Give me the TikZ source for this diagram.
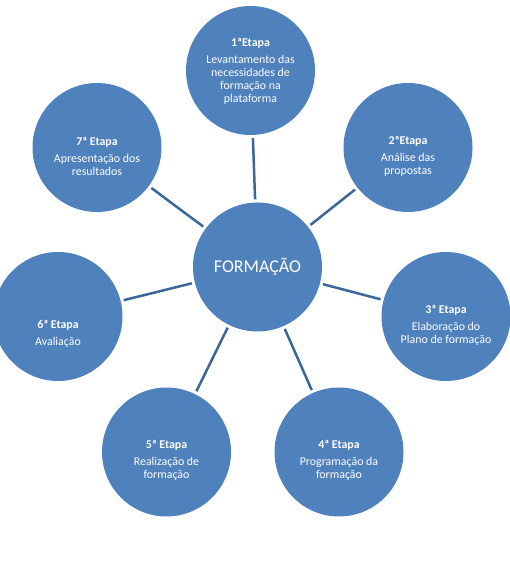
\documentclass[tikz,border=0pt]{standalone}
\usepackage{fontspec}
\setmainfont{Carlito}
\usepackage{tikz}
\usetikzlibrary{positioning}
\definecolor{stagefill}{HTML}{4F81BD}
\definecolor{linkcol}{HTML}{3A6699}

\begin{document}
\begin{tikzpicture}[x=1pt, y=1pt,
    stage/.style={circle, fill=stagefill, minimum size=129pt, inner sep=0pt},
    txt/.style={text=white, align=center, font=\fontsize{11.9}{13}\selectfont},
    link/.style={draw=linkcol, line width=2.5pt, shorten >=3pt, shorten <=3pt}]
  \useasboundingbox (0,0) rectangle (510,564);
  % hub
  \node[stage] (hub) at (257.5,297) {};
  \node[text=white, font=\fontsize{18}{20}\selectfont] (hubtxt) at (hub) {FORMAÇÃO};
  % stages
  \node[stage] (s1) at (250.5,493.5) {};
  \node[stage] (s2) at (408,416.5)   {};
  \node[stage] (s3) at (446,247.5)   {};
  \node[stage] (s4) at (339,112)     {};
  \node[stage] (s5) at (166.5,112)   {};
  \node[stage] (s6) at (58,247.5)    {};
  \node[stage] (s7) at (97,416.5)    {};
  % labels
  \node[txt, yshift=-1pt] (t1) at (s1) {\textbf{1ªEtapa}\\[4pt]Levantamento das\\necessidades de\\formação na\\plataforma};
  \node[txt, yshift=-9pt] (t2) at (s2) {\textbf{2ªEtapa}\\[4pt]Análise das\\propostas};
  \node[txt, yshift=-8.5pt] (t3) at (s3) {\textbf{3ª Etapa}\\[4pt]Elaboração do\\Plano de formação};
  \node[txt, yshift=-8pt] (t4) at (s4) {\textbf{4ª Etapa}\\[4pt]Programação da\\formação};
  \node[txt, yshift=-8pt] (t5) at (s5) {\textbf{5ª Etapa}\\[4pt]Realização de\\formação};
  \node[txt, yshift=-17.5pt] (t6) at (s6) {\textbf{6ª Etapa}\\[4pt]Avaliação};
  \node[txt, yshift=-9pt] (t7) at (s7) {\textbf{7ª Etapa}\\[4pt]Apresentação dos\\resultados};
  % connectors
  \foreach \s in {s1,s2,s3,s4,s5,s6,s7}
    \draw[link] (hub) -- (\s);
\end{tikzpicture}
\end{document}
